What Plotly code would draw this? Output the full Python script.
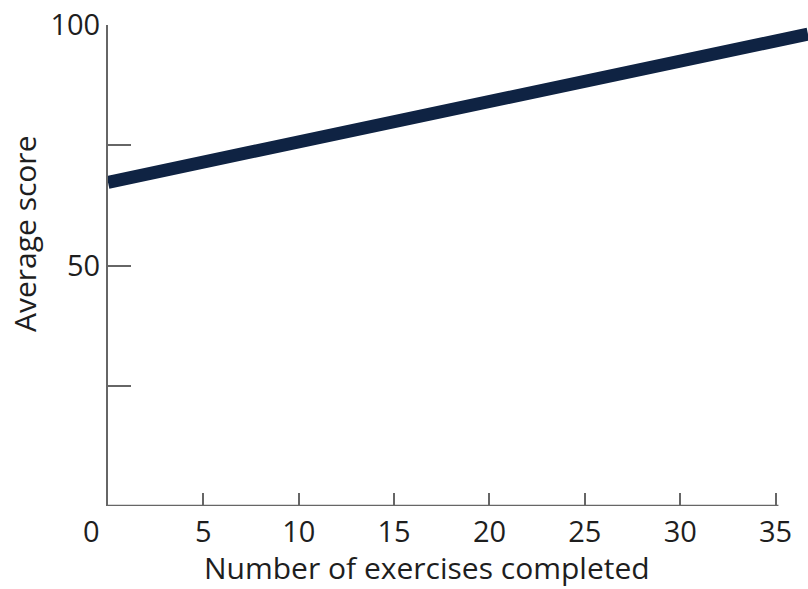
import plotly.graph_objects as go

# Data
exercises = [0, 36.7]
avg_score = [67.3, 98.1]

x_ticks = [5, 10, 15, 20, 25, 30, 35]
y_tick_vals = [25, 50, 75, 100]
y_tick_text = ["", "50", "", "100"]

FONT = "Open Sans"
TXT = "#1e1e1e"
AX = "#666666"
NAVY = "#0f2343"
FS = 29
FT = 30

fig = go.Figure()
fig.add_trace(go.Scatter(x=exercises, y=avg_score, mode="lines",
                         line=dict(color=NAVY, width=13), hoverinfo="skip"))

fig.update_layout(
    width=808, height=589,
    margin=dict(l=108, r=0, t=25, b=83),
    paper_bgcolor="white", plot_bgcolor="white",
    showlegend=False,
    font=dict(family=FONT, size=FS, color=TXT),
)
fig.update_xaxes(range=[0, 36.7], showgrid=False, zeroline=False, showline=False,
                 tickmode="array", tickvals=x_ticks, ticks="inside", ticklen=13,
                 tickwidth=2, tickcolor=AX, tickfont=dict(size=FS, color=TXT),
                 ticklabelstandoff=6)
fig.update_yaxes(range=[0, 100], showgrid=False, zeroline=False, showline=True,
                 linecolor=AX, linewidth=2,
                 tickmode="array", tickvals=y_tick_vals, ticktext=y_tick_text,
                 ticks="inside", ticklen=23, tickwidth=2, tickcolor=AX,
                 tickfont=dict(size=FS, color=TXT))

# x axis baseline ending just past 35
fig.add_shape(type="line", xref="x", yref="y", x0=0, x1=35.15, y0=0, y1=0,
              line=dict(color=AX, width=2.5))

# "0" label, offset left as in the reference
fig.add_annotation(x=(91 - 108) / 700, y=(506 - 530) / 481, xref="paper", yref="paper",
                   text="0", showarrow=False, xanchor="center", yanchor="middle",
                   font=dict(size=FS, color=TXT))
# Axis titles
fig.add_annotation(x=(427 - 108) / 700, y=(506 - 567) / 481, xref="paper", yref="paper",
                   text="Number of exercises completed", showarrow=False,
                   xanchor="center", yanchor="middle", borderpad=0,
                   font=dict(size=FT, color=TXT))
fig.add_annotation(x=(25 - 108) / 700, y=(506 - 234) / 481, xref="paper", yref="paper",
                   text="Average score", textangle=-90, showarrow=False,
                   xanchor="center", yanchor="middle", borderpad=0,
                   font=dict(size=FT, color=TXT))

fig.write_html("out.html", config={"displayModeBar": False},
               post_script="document.body.style.margin='0';")
